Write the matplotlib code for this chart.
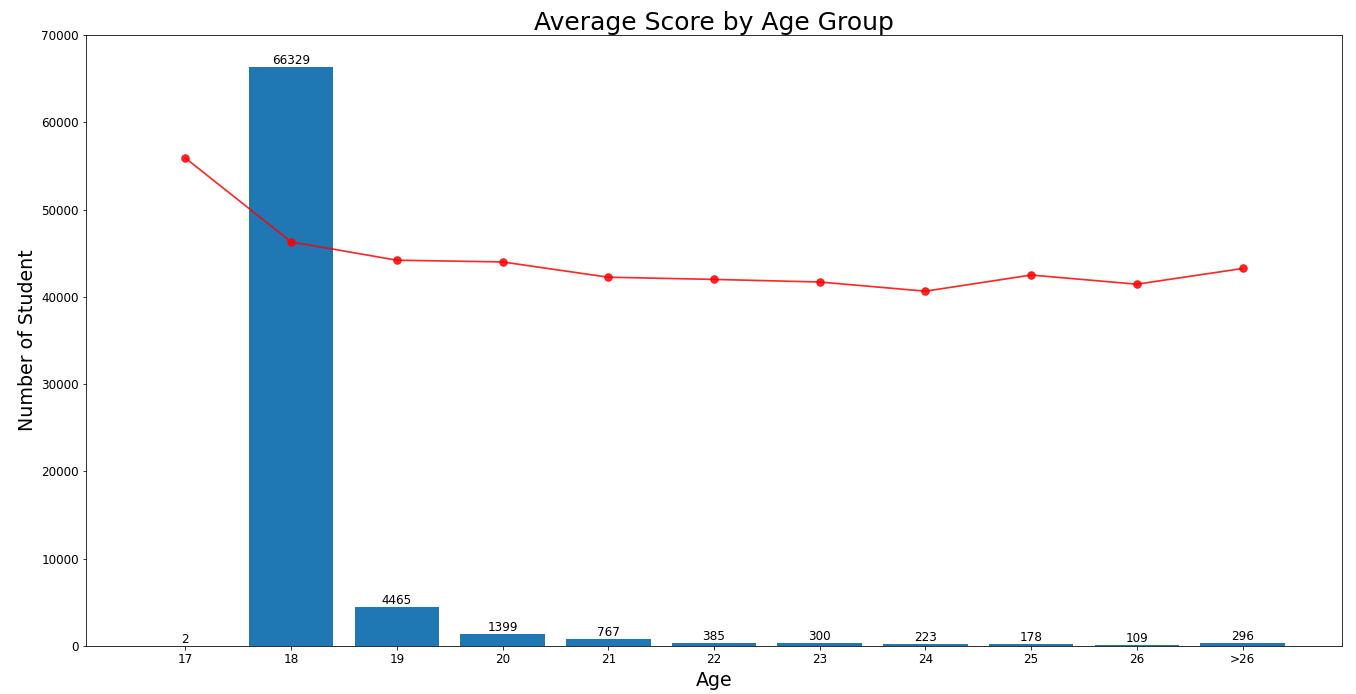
import matplotlib

matplotlib.use("Agg")
import matplotlib.pyplot as plt  # noqa: E402

# faixas etárias e contagem de estudantes
idades = ["17", "18", "19", "20", "21", "22", "23", "24", "25", "26", ">26"]
n_estudantes = [2, 66329, 4465, 1399, 767, 385, 300, 223, 178, 109, 296]

# nota média (já na escala do eixo)
nota_media = [55900, 46300, 44200, 44000, 42250, 42000, 41700, 40650, 42500, 41450, 43250]

fig = plt.figure(figsize=(1356 / 72, 694 / 72), dpi=72)
ax = fig.add_axes([86 / 1356, 1 - 646 / 694, 1256 / 1356, 611 / 694])

barras = ax.bar(idades, n_estudantes, width=0.8, color="#1f77b4")
ax.bar_label(barras, labels=[str(v) for v in n_estudantes], fontsize=12, padding=0)
ax.plot(idades, nota_media, color="red", alpha=0.85, marker="o",
        markersize=7.5, linewidth=1.7)

ax.set_ylim(0, 70000)
ax.tick_params(labelsize=12)
ax.set_title("Average Score by Age Group", fontsize=25, pad=5)
ax.set_xlabel("Age", fontsize=19, labelpad=5)
ax.set_ylabel("Number of Student", fontsize=19)

fig.savefig("out.png", dpi=72)
